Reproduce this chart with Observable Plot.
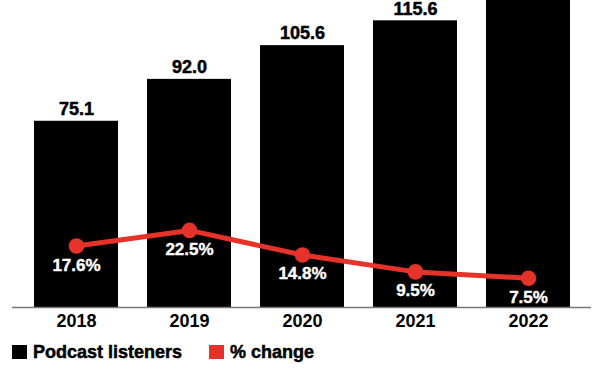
<!DOCTYPE html>
<html>
<head>
<meta charset="utf-8">
<script src="https://cdn.jsdelivr.net/npm/d3@7"></script>
<script src="https://cdn.jsdelivr.net/npm/@observablehq/plot@0.6"></script>
<style>
  html, body { margin: 0; padding: 0; background: #fff; }
  body { width: 600px; font-family: "Liberation Sans", Arial, sans-serif; }
  #legend { display: flex; align-items: center; height: 30px; padding-left: 12px; margin-top: 1px;
            font-weight: bold; font-size: 18px; color: #000; -webkit-text-stroke: 0.5px #000; }
  .sw { width: 15px; height: 14px; display: inline-block; margin-right: 6px; -webkit-text-stroke: 0; }
  .item { display: flex; align-items: center; margin-right: 27px; }
</style>
</head>
<body>
<div id="chart"></div>
<div id="legend">
  <span class="item"><span class="sw" style="background:#000"></span>Podcast listeners</span>
  <span class="item"><span class="sw" style="background:#e5332a"></span>% change</span>
</div>
<script>
const years = ["2018", "2019", "2020", "2021", "2022"];
const listeners = [75.1, 92.0, 105.6, 115.6, 124.3];
const pctChange = [17.6, 22.5, 14.8, 9.5, 7.5];

const RED = "#e5332a";
const Y_MAX = 123.8; // visible top of the value axis (2022 bar runs off the top)
// display mapping of the % series onto the bar axis (secondary scale)
const pctScale = 1.2864, pctOffset = 2.14;

const data = years.map((y, i) => ({year: y, value: listeners[i], pct: pctChange[i]}));
const pY = d => d.pct * pctScale + pctOffset;

const chart = Plot.plot({
  width: 600,
  height: 336,
  marginTop: 0,
  marginBottom: 29,
  marginLeft: 4,
  marginRight: 0,
  style: {fontFamily: "'Liberation Sans', Arial, sans-serif", background: "#fff"},
  x: {domain: years, padding: 0.256, label: null},
  y: {domain: [0, Y_MAX], axis: null},
  marks: [
    Plot.barY(data, {x: "year", y: "value", fill: "#000"}),
    Plot.text(data.filter(d => d.value <= Y_MAX), {x: "year", y: "value", text: d => d.value.toFixed(1), dy: -12,
      fontSize: 18, fontWeight: "bold", fill: "#000", stroke: "#000", strokeWidth: 0.5}),
    Plot.ruleY([0], {stroke: "#777", strokeWidth: 1.5, insetLeft: 8, insetRight: 9}),
    Plot.line(data, {x: "year", y: pY, stroke: RED, strokeWidth: 5}),
    Plot.dot(data, {x: "year", y: pY, r: 7.8, fill: RED}),
    Plot.text(data, {x: "year", y: pY, text: d => d.pct.toFixed(1) + "%", dy: 19,
      fontSize: 17, fontWeight: "bold", fill: "#fff", stroke: "#fff", strokeWidth: 0.4}),
    Plot.axisX({tickSize: 0, tickPadding: 7, fontSize: 18, fontWeight: "bold", fill: "#000",
      stroke: "#000", strokeWidth: 0.5, label: null})
  ]
});
document.getElementById("chart").appendChild(chart);
</script>
</body>
</html>
